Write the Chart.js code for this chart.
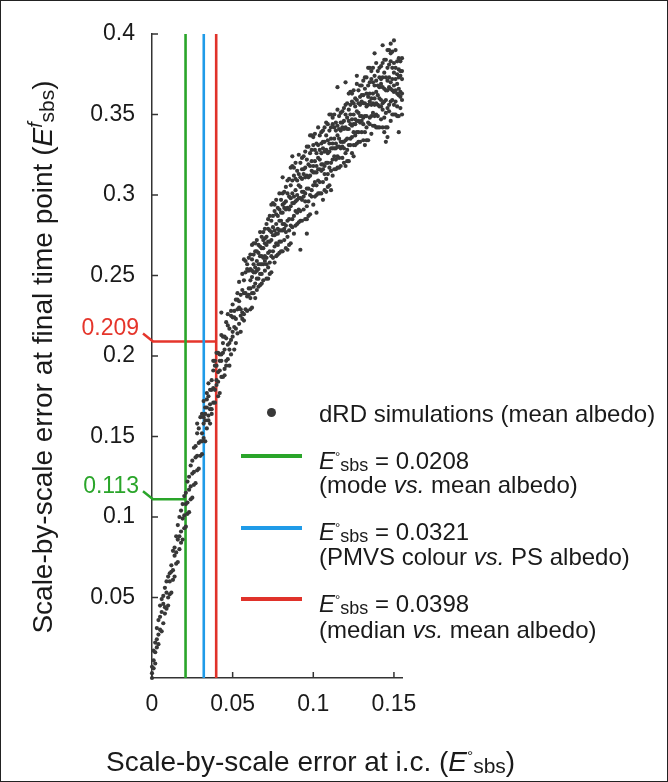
<!DOCTYPE html>
<html>
<head>
<meta charset="utf-8">
<script src="https://cdn.jsdelivr.net/npm/chart.js@4.4.1/dist/chart.umd.min.js"></script>
<style>
    html, body { margin: 0; padding: 0; background: #fff; }
    #wrap {
        position: relative; width: 668px; height: 782px; overflow: hidden;
        font-family: 'Liberation Sans', Arial, Helvetica, sans-serif; color: #1a1a1a;
    }
    #wrap canvas { position: absolute; left: 0; top: 0; }
    #frame {
        position: absolute; left: 0; top: 0; width: 668px; height: 782px;
        box-sizing: border-box; border: 1.5px solid #222; pointer-events: none;
    }
    .txt { position: absolute; white-space: nowrap; font-size: 24px; line-height: 24px; }
    .title { position: absolute; white-space: nowrap; font-size: 28px; line-height: 28px; }
    .e { font-style: italic; }
    .deg { font-size: 0.55em; vertical-align: 0.62em; }
    .sup { font-size: 0.7em; vertical-align: 0.5em; font-style: italic; }
    .sub { font-size: 0.75em; vertical-align: -0.1em; }
    .key { position: absolute; left: 241px; width: 61px; height: 4px; }
    .dot { position: absolute; width: 9px; height: 9px; border-radius: 50%; }
</style>
</head>
<body>
<div id="wrap">
    <canvas id="chart" width="668" height="782"></canvas>
    <div id="legend"></div>
    <div class="title" id="xTitle" style="left:106px; top:742px;">Scale-by-scale error at i.c. (<span class="e">E</span><span class="deg">°</span><span class="sub">sbs</span>)</div>
    <div class="title" id="yTitle" style="left:41px; top:357px; transform: translate(-50%, -50%) rotate(-90deg);">Scale-by-scale error at final time point (<span class="e">E</span><span class="sup">f</span><span class="sub">sbs</span>)</div>
    <div id="frame"></div>
</div>
<script>
// axis ticks
const xTicks = [0, 0.05, 0.1, 0.15];
const yTicks = [0.05, 0.1, 0.15, 0.2, 0.25, 0.3, 0.35, 0.4];

// reference E°sbs values (vertical lines)
const refX = [0.0208, 0.0321, 0.0398];
const refColors = ['#2aa52a', '#1f9be8', '#e0322a'];
const refNotes = ['mode <i>vs.</i> mean albedo', 'PMVS colour <i>vs.</i> PS albedo', 'median <i>vs.</i> mean albedo'];

// read-off markers on the y axis
const markY = [0.111, 0.209];
const markText = ['0.113', '0.209'];
const markEndX = [0.0208, 0.0398];
const markColors = ['#2aa52a', '#e5352b'];

// dRD simulations: each row is [E°sbs, E^f_sbs values at that E°sbs ...]
const simColumns = [
    [0.000, 0.000, 0.003, 0.007],
    [0.001, 0.006, 0.011, 0.017],
    [0.002, 0.009, 0.016, 0.022],
    [0.003, 0.019, 0.024, 0.031],
    [0.004, 0.021, 0.027, 0.036],
    [0.005, 0.030, 0.038, 0.045],
    [0.006, 0.029, 0.041, 0.049],
    [0.007, 0.034, 0.046, 0.051],
    [0.008, 0.040, 0.044, 0.056],
    [0.009, 0.043, 0.053, 0.060],
    [0.010, 0.045, 0.050, 0.063],
    [0.011, 0.052, 0.060, 0.065],
    [0.012, 0.053, 0.066, 0.070],
    [0.013, 0.061, 0.067, 0.079],
    [0.014, 0.063, 0.076, 0.081],
    [0.015, 0.071, 0.078, 0.088],
    [0.016, 0.072, 0.086, 0.095],
    [0.017, 0.080, 0.088, 0.100],
    [0.018, 0.084, 0.091, 0.104],
    [0.019, 0.086, 0.099, 0.108],
    [0.020, 0.093, 0.101, 0.113],
    [0.021, 0.094, 0.108, 0.115],
    [0.022, 0.102, 0.109, 0.122],
    [0.023, 0.103, 0.117, 0.125],
    [0.024, 0.111, 0.119, 0.132],
    [0.025, 0.112, 0.127, 0.135],
    [0.026, 0.120, 0.128, 0.143],
    [0.027, 0.121, 0.137, 0.144],
    [0.028, 0.129, 0.138, 0.152, 0.158],
    [0.029, 0.130, 0.146, 0.155],
    [0.030, 0.138, 0.147, 0.162],
    [0.031, 0.139, 0.147, 0.152, 0.164],
    [0.032, 0.149, 0.158, 0.162, 0.172],
    [0.033, 0.147, 0.160, 0.164, 0.168],
    [0.034, 0.155, 0.168, 0.173, 0.177],
    [0.035, 0.160, 0.163, 0.175, 0.183],
    [0.036, 0.158, 0.167, 0.170, 0.179],
    [0.037, 0.164, 0.167, 0.179, 0.185],
    [0.038, 0.171, 0.180, 0.191, 0.197],
    [0.039, 0.171, 0.179, 0.194, 0.197],
    [0.040, 0.182, 0.185, 0.194, 0.202],
    [0.041, 0.175, 0.184, 0.190, 0.202],
    [0.042, 0.177, 0.191, 0.197, 0.201],
    [0.043, 0.187, 0.197, 0.201, 0.213, 0.227],
    [0.044, 0.187, 0.202, 0.208, 0.212],
    [0.045, 0.188, 0.192, 0.204, 0.212],
    [0.046, 0.194, 0.197, 0.211, 0.221],
    [0.047, 0.198, 0.207, 0.219, 0.226],
    [0.048, 0.194, 0.204, 0.208, 0.217],
    [0.049, 0.201, 0.210, 0.225, 0.228],
    [0.050, 0.212, 0.215, 0.224, 0.232],
    [0.051, 0.204, 0.218, 0.224, 0.228],
    [0.052, 0.208, 0.217, 0.223, 0.235],
    [0.053, 0.214, 0.229, 0.235, 0.239],
    [0.054, 0.220, 0.230, 0.234, 0.246],
    [0.055, 0.215, 0.225, 0.229, 0.238],
    [0.056, 0.223, 0.227, 0.241, 0.251],
    [0.057, 0.222, 0.226, 0.239, 0.247, 0.260],
    [0.058, 0.229, 0.239, 0.252, 0.259],
    [0.059, 0.228, 0.237, 0.254, 0.257],
    [0.060, 0.238, 0.242, 0.253, 0.261],
    [0.061, 0.229, 0.236, 0.242, 0.247, 0.254, 0.263],
    [0.062, 0.230, 0.239, 0.249, 0.253, 0.260, 0.269],
    [0.063, 0.239, 0.243, 0.252, 0.257, 0.263, 0.270],
    [0.064, 0.236, 0.245, 0.252, 0.255, 0.265, 0.270],
    [0.065, 0.241, 0.248, 0.253, 0.259, 0.265, 0.272],
    [0.066, 0.243, 0.248, 0.254, 0.257, 0.264, 0.269],
    [0.067, 0.244, 0.251, 0.257, 0.262, 0.268, 0.277],
    [0.068, 0.245, 0.251, 0.257, 0.262, 0.267, 0.274],
    [0.069, 0.247, 0.257, 0.261, 0.267, 0.272, 0.277],
    [0.070, 0.253, 0.259, 0.262, 0.270, 0.273, 0.279],
    [0.071, 0.248, 0.257, 0.261, 0.269, 0.274, 0.282],
    [0.072, 0.248, 0.255, 0.264, 0.271, 0.279, 0.285],
    [0.073, 0.251, 0.258, 0.265, 0.271, 0.278, 0.287],
    [0.074, 0.252, 0.262, 0.272, 0.277, 0.284, 0.294],
    [0.075, 0.261, 0.265, 0.275, 0.280, 0.287, 0.295],
    [0.076, 0.258, 0.268, 0.275, 0.278, 0.290, 0.294],
    [0.077, 0.262, 0.270, 0.276, 0.282, 0.288, 0.297],
    [0.078, 0.263, 0.269, 0.276, 0.279, 0.287, 0.292],
    [0.079, 0.264, 0.271, 0.278, 0.284, 0.291, 0.301],
    [0.080, 0.265, 0.271, 0.278, 0.284, 0.289, 0.297],
    [0.081, 0.265, 0.278, 0.282, 0.289, 0.294, 0.301, 0.311],
    [0.082, 0.272, 0.279, 0.282, 0.292, 0.295, 0.302],
    [0.083, 0.267, 0.277, 0.281, 0.291, 0.296, 0.305],
    [0.084, 0.266, 0.274, 0.284, 0.292, 0.301, 0.309],
    [0.085, 0.269, 0.278, 0.285, 0.291, 0.299, 0.310],
    [0.086, 0.270, 0.281, 0.293, 0.298, 0.306, 0.317],
    [0.087, 0.280, 0.285, 0.295, 0.301, 0.309, 0.318, 0.324],
    [0.088, 0.276, 0.287, 0.295, 0.299, 0.312, 0.317],
    [0.089, 0.281, 0.290, 0.296, 0.303, 0.310, 0.320],
    [0.090, 0.282, 0.289, 0.297, 0.300, 0.309, 0.315],
    [0.091, 0.283, 0.291, 0.298, 0.306, 0.313, 0.325],
    [0.092, 0.266, 0.284, 0.290, 0.298, 0.305, 0.311, 0.320],
    [0.093, 0.284, 0.297, 0.302, 0.310, 0.316, 0.323],
    [0.094, 0.291, 0.299, 0.302, 0.313, 0.316, 0.324],
    [0.095, 0.285, 0.296, 0.301, 0.311, 0.317, 0.327],
    [0.096, 0.276, 0.285, 0.293, 0.304, 0.312, 0.322, 0.330],
    [0.097, 0.287, 0.296, 0.304, 0.311, 0.319, 0.330],
    [0.098, 0.288, 0.300, 0.312, 0.318, 0.326, 0.337],
    [0.099, 0.299, 0.303, 0.315, 0.321, 0.328, 0.337],
    [0.100, 0.294, 0.306, 0.314, 0.318, 0.331, 0.336],
    [0.101, 0.299, 0.308, 0.314, 0.321, 0.328, 0.338],
    [0.102, 0.289, 0.300, 0.306, 0.314, 0.318, 0.326, 0.332],
    [0.103, 0.301, 0.309, 0.316, 0.323, 0.331, 0.342],
    [0.104, 0.301, 0.308, 0.316, 0.322, 0.328, 0.337],
    [0.105, 0.301, 0.315, 0.319, 0.326, 0.332, 0.339],
    [0.106, 0.297, 0.308, 0.316, 0.319, 0.329, 0.333, 0.340],
    [0.107, 0.303, 0.313, 0.318, 0.327, 0.333, 0.342],
    [0.108, 0.302, 0.310, 0.320, 0.328, 0.337, 0.345],
    [0.109, 0.305, 0.313, 0.320, 0.326, 0.334, 0.344],
    [0.110, 0.306, 0.317, 0.327, 0.332, 0.340, 0.350],
    [0.111, 0.303, 0.315, 0.320, 0.329, 0.335, 0.342, 0.350],
    [0.112, 0.312, 0.322, 0.329, 0.332, 0.344, 0.348],
    [0.113, 0.316, 0.324, 0.329, 0.335, 0.342, 0.350],
    [0.114, 0.316, 0.322, 0.329, 0.332, 0.340, 0.345],
    [0.115, 0.317, 0.324, 0.330, 0.337, 0.343, 0.353, 0.367],
    [0.116, 0.317, 0.323, 0.330, 0.335, 0.341, 0.349],
    [0.117, 0.318, 0.329, 0.333, 0.340, 0.345, 0.351],
    [0.118, 0.323, 0.330, 0.333, 0.342, 0.345, 0.352],
    [0.119, 0.320, 0.329, 0.333, 0.341, 0.346, 0.354],
    [0.120, 0.318, 0.326, 0.334, 0.342, 0.350, 0.356, 0.370],
    [0.121, 0.321, 0.328, 0.335, 0.341, 0.348, 0.357],
    [0.122, 0.321, 0.331, 0.341, 0.346, 0.353, 0.363],
    [0.123, 0.331, 0.335, 0.344, 0.350, 0.356, 0.364],
    [0.124, 0.326, 0.336, 0.343, 0.347, 0.358, 0.363],
    [0.125, 0.324, 0.331, 0.339, 0.344, 0.350, 0.357, 0.365],
    [0.126, 0.331, 0.337, 0.344, 0.347, 0.355, 0.360],
    [0.127, 0.332, 0.339, 0.346, 0.352, 0.359, 0.369, 0.374],
    [0.128, 0.333, 0.339, 0.346, 0.351, 0.357, 0.365],
    [0.129, 0.333, 0.345, 0.349, 0.356, 0.361, 0.368],
    [0.130, 0.339, 0.346, 0.349, 0.358, 0.362, 0.368],
    [0.131, 0.334, 0.344, 0.348, 0.357, 0.362, 0.371],
    [0.132, 0.331, 0.339, 0.349, 0.357, 0.366, 0.373],
    [0.133, 0.334, 0.342, 0.349, 0.355, 0.363, 0.373],
    [0.134, 0.334, 0.345, 0.356, 0.361, 0.368, 0.379],
    [0.135, 0.344, 0.348, 0.358, 0.363, 0.370, 0.379],
    [0.136, 0.338, 0.349, 0.356, 0.360, 0.372, 0.377],
    [0.137, 0.343, 0.351, 0.357, 0.363, 0.370, 0.379],
    [0.138, 0.343, 0.349, 0.356, 0.360, 0.368, 0.374, 0.388],
    [0.139, 0.342, 0.350, 0.357, 0.364, 0.371, 0.382],
    [0.140, 0.342, 0.349, 0.356, 0.362, 0.368, 0.377],
    [0.141, 0.342, 0.355, 0.360, 0.367, 0.373, 0.379],
    [0.142, 0.347, 0.355, 0.359, 0.369, 0.372, 0.380],
    [0.143, 0.342, 0.353, 0.357, 0.367, 0.373, 0.382, 0.393],
    [0.144, 0.339, 0.348, 0.358, 0.366, 0.376, 0.384],
    [0.145, 0.333, 0.342, 0.351, 0.359, 0.365, 0.373, 0.384],
    [0.146, 0.336, 0.342, 0.354, 0.365, 0.371, 0.379, 0.390],
    [0.147, 0.352, 0.356, 0.367, 0.373, 0.381, 0.390],
    [0.148, 0.346, 0.358, 0.366, 0.370, 0.383, 0.388, 0.394],
    [0.149, 0.350, 0.359, 0.365, 0.372, 0.379, 0.389],
    [0.150, 0.350, 0.356, 0.364, 0.368, 0.376, 0.382, 0.396],
    [0.151, 0.350, 0.358, 0.365, 0.372, 0.379, 0.390],
    [0.152, 0.349, 0.355, 0.363, 0.369, 0.375, 0.383],
    [0.153, 0.339, 0.349, 0.362, 0.366, 0.373, 0.378, 0.385],
    [0.154, 0.354, 0.361, 0.364, 0.374, 0.377, 0.383],
    [0.155, 0.350, 0.359, 0.363, 0.372, 0.377, 0.385]
];

const axisColor = '#333';
const fontFamily = "'Liberation Sans', Arial, Helvetica, sans-serif";

// scatter points from the columns
const simPoints = simColumns.flatMap(col => col.slice(1).map(v => ({ x: col[0], y: v })));

const datasets = [];
datasets.push({
    label: 'dRD simulations (mean albedo)',
    data: simPoints,
    pointRadius: 2.1,
    pointBorderWidth: 0,
    pointBackgroundColor: '#383838',
    order: 0,
    clip: 4
});
// vertical reference lines
refX.forEach((v, i) => {
    datasets.push({
        data: [{ x: v, y: 0 }, { x: v, y: 0.4 }],
        showLine: true,
        borderColor: refColors[i],
        borderWidth: 2.6,
        pointRadius: 0,
        order: 1
    });
});
// horizontal read-off lines
markY.forEach((v, i) => {
    datasets.push({
        data: [{ x: 0, y: v }, { x: markEndX[i], y: v }],
        showLine: true,
        borderColor: markColors[i],
        borderWidth: 2.4,
        pointRadius: 0,
        order: 1
    });
});

// inward ticks, leader lines and marker labels
const overlayPlugin = {
    id: 'overlay',
    afterDraw(chart) {
        const { ctx, chartArea } = chart;
        const xs = chart.scales.x, ys = chart.scales.y;
        ctx.save();
        ctx.strokeStyle = axisColor;
        ctx.lineWidth = 1.5;
        xs.ticks.forEach(t => {
            const px = xs.getPixelForValue(t.value);
            ctx.beginPath();
            ctx.moveTo(px, chartArea.bottom);
            ctx.lineTo(px, chartArea.bottom - 6);
            ctx.stroke();
        });
        ys.ticks.forEach(t => {
            const py = ys.getPixelForValue(t.value);
            ctx.beginPath();
            ctx.moveTo(chartArea.left, py);
            ctx.lineTo(chartArea.left + 6, py);
            ctx.stroke();
        });

        ctx.font = '23px ' + fontFamily;
        ctx.textAlign = 'right';
        ctx.textBaseline = 'middle';
        markY.forEach((v, i) => {
            const py = ys.getPixelForValue(v);
            const px = xs.getPixelForValue(0);
            ctx.strokeStyle = markColors[i];
            ctx.lineWidth = 2.4;
            ctx.beginPath();
            ctx.moveTo(px - 9, py - 8);
            ctx.lineTo(px + 1, py);
            ctx.stroke();
            ctx.fillStyle = markColors[i];
            ctx.fillText(markText[i], px - 13, py - 13);
        });
        ctx.restore();
    }
};

const tickFont = { family: fontFamily, size: 23 };

new Chart(document.getElementById('chart').getContext('2d'), {
    type: 'scatter',
    data: { datasets: datasets },
    options: {
        responsive: false,
        animation: false,
        events: [],
        layout: { padding: { top: 34, right: 266, bottom: 0, left: 0 } },
        plugins: { legend: { display: false }, tooltip: { enabled: false } },
        scales: {
            x: {
                type: 'linear',
                min: 0,
                max: 0.155,
                afterBuildTicks: s => { s.ticks = xTicks.map(v => ({ value: v })); },
                afterFit: s => { s.height = 104; },
                grid: { display: false, drawTicks: false },
                border: { display: true, color: axisColor, width: 1.5 },
                ticks: { font: tickFont, color: '#1a1a1a', padding: 13, maxRotation: 0, callback: v => String(v) }
            },
            y: {
                type: 'linear',
                min: 0,
                max: 0.4,
                afterBuildTicks: s => { s.ticks = yTicks.map(v => ({ value: v })); },
                afterFit: s => { s.width = 152; },
                grid: { display: false, drawTicks: false },
                border: { display: true, color: axisColor, width: 1.5 },
                ticks: { font: tickFont, color: '#1a1a1a', padding: 17, callback: v => String(v) }
            }
        }
    },
    plugins: [overlayPlugin]
});

// legend (HTML, for the italic / sub- and superscript labels)
const legend = document.getElementById('legend');
const eTops = [445, 516, 588];
const noteTops = [473, 545, 618];
const keyCentres = [456, 528, 599];
let html = '<div class="dot" style="left:267px; top:408px; background:#383838;"></div>' +
    '<div class="txt" style="left:319px; top:402px;">' + datasets[0].label + '</div>';
refX.forEach((v, i) => {
    html += '<div class="key" style="top:' + (keyCentres[i] - 2) + 'px; background:' + refColors[i] + ';"></div>';
    html += '<div class="txt" style="left:319px; top:' + eTops[i] + 'px;"><span class="e">E</span><span class="deg">°</span><span class="sub">sbs</span> = ' + v + '</div>';
    html += '<div class="txt" style="left:319px; top:' + noteTops[i] + 'px;">(' + refNotes[i] + ')</div>';
});
legend.innerHTML = html;
</script>
</body>
</html>
